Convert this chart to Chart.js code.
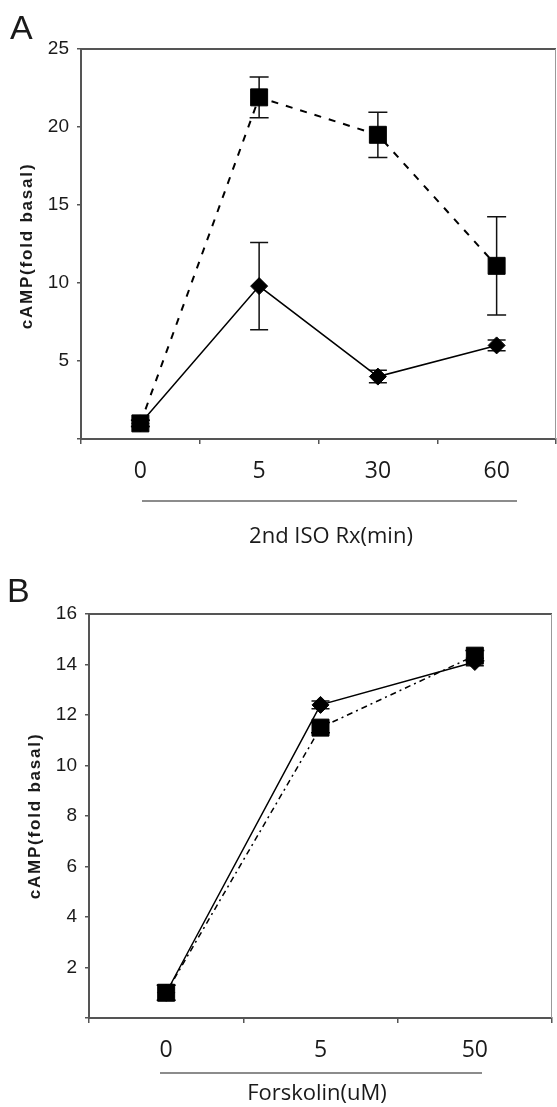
<!DOCTYPE html>
<html>
<head>
<meta charset="utf-8">
<title>cAMP fold basal</title>
<script src="https://cdn.jsdelivr.net/npm/chart.js@4/dist/chart.umd.min.js"></script>
<style>
  html, body { margin: 0; padding: 0; background: #fff; }
  canvas { display: block; }
</style>
</head>
<body>
<canvas id="chartA" width="557" height="560"></canvas>
<canvas id="chartB" width="557" height="547"></canvas>
<script>
'use strict';

// ---- 데이터 ----
const isoMinutes      = ['0', '5', '30', '60'];
const isoSquare       = [1.0, 21.9, 19.5, 11.1];
const isoSquareErr    = [0.2, 1.3, 1.45, 3.15];
const isoDiamond      = [1.0, 9.8, 4.0, 6.0];
const isoDiamondErr   = [0.2, 2.8, 0.4, 0.35];
const isoTicks        = { max: 25, step: 5 };

const fskDoses        = ['0', '5', '50'];
const fskSquare       = [1.0, 11.5, 14.35];
const fskSquareErr    = [0.3, 0.2, 0.2];
const fskDiamond      = [1.0, 12.4, 14.1];
const fskDiamondErr   = [0.3, 0.15, 0.15];
const fskTicks        = { max: 16, step: 2 };

const Y_TITLE = 'cAMP(fold basal)';
const AXIS_COLOR = '#555';
const TEXT_COLOR = '#1a1a1a';

// 에러바: 점 뒤에 그려지도록 datasets 전에
const errorBarPlugin = {
  id: 'errorBars',
  beforeDatasetsDraw(chart) {
    const { ctx } = chart;
    const yScale = chart.scales.y;
    ctx.save();
    ctx.strokeStyle = '#111';
    ctx.lineWidth = 1.5;
    chart.data.datasets.forEach((ds, i) => {
      if (!ds.errors) return;
      const meta = chart.getDatasetMeta(i);
      meta.data.forEach((pt, j) => {
        const v = ds.data[j], e = ds.errors[j];
        const yHi = yScale.getPixelForValue(v + e);
        const yLo = yScale.getPixelForValue(v - e);
        const cap = ds.capHalf || 9;
        ctx.beginPath();
        ctx.moveTo(pt.x, yHi); ctx.lineTo(pt.x, yLo);
        ctx.moveTo(pt.x - cap, yHi); ctx.lineTo(pt.x + cap, yHi);
        ctx.moveTo(pt.x - cap, yLo); ctx.lineTo(pt.x + cap, yLo);
        ctx.stroke();
      });
    });
    ctx.restore();
  },
};

// 패널 문자, 상단/우측 테두리, 축 제목, 밑줄
const panelDecorPlugin = {
  id: 'panelDecor',
  afterDraw(chart, args, o) {
    const { ctx, chartArea: { left, top, right, bottom } } = chart;
    ctx.save();

    ctx.strokeStyle = AXIS_COLOR;
    ctx.lineWidth = 2;
    ctx.beginPath(); ctx.moveTo(left, top); ctx.lineTo(right, top); ctx.stroke();
    ctx.strokeStyle = '#999';
    ctx.lineWidth = 1;
    ctx.beginPath(); ctx.moveTo(right - 0.5, top); ctx.lineTo(right - 0.5, bottom); ctx.stroke();

    ctx.fillStyle = TEXT_COLOR;
    ctx.font = '34px "Liberation Sans", Arial, sans-serif';
    ctx.textAlign = 'left';
    ctx.textBaseline = 'alphabetic';
    ctx.fillText(o.letter, o.letterX, o.letterY);

    ctx.strokeStyle = '#666';
    ctx.lineWidth = 1.5;
    ctx.beginPath(); ctx.moveTo(o.lineX0, o.lineY); ctx.lineTo(o.lineX1, o.lineY); ctx.stroke();

    ctx.font = '22px "Open Sans", sans-serif';
    ctx.textAlign = 'center';
    ctx.textBaseline = 'middle';
    ctx.fillText(o.title, o.titleX, o.titleY);

    ctx.translate(o.yTitleX, o.yTitleY);
    ctx.rotate(-Math.PI / 2);
    ctx.font = 'bold 17px "Liberation Sans", Arial, sans-serif';
    ctx.letterSpacing = '1.8px';
    ctx.fillText(Y_TITLE, 0, 0);

    ctx.restore();
  },
};

function makeChart(canvasId, cfg) {
  const canvas = document.getElementById(canvasId);
  return new Chart(canvas, {
    type: 'line',
    plugins: [errorBarPlugin, panelDecorPlugin],
    data: {
      labels: cfg.labels,
      datasets: [
        {
          // 사각형 (점선) — 첫 번째 데이터셋이 맨 위에 그려짐
          data: cfg.square,
          errors: cfg.squareErr,
          capHalf: 9.5,
          borderColor: '#000',
          borderWidth: cfg.dashWidth,
          borderDash: cfg.dash,
          pointStyle: 'rect',
          pointRadius: 12,
          pointBackgroundColor: '#000',
          pointBorderColor: '#000',
          pointBorderWidth: 1,
          tension: 0,
          fill: false,
        },
        {
          // 마름모 (실선)
          data: cfg.diamond,
          errors: cfg.diamondErr,
          capHalf: 9,
          borderColor: '#000',
          borderWidth: 1.5,
          pointStyle: 'rectRot',
          pointRadius: 8.5,
          pointBackgroundColor: '#000',
          pointBorderColor: '#000',
          pointBorderWidth: 1,
          tension: 0,
          fill: false,
        },
      ],
    },
    options: {
      responsive: false,
      animation: false,
      events: [],
      layout: { padding: cfg.padding, autoPadding: false },
      plugins: {
        legend: { display: false },
        tooltip: { enabled: false },
        panelDecor: cfg.decor,
      },
      scales: {
        x: {
          type: 'category',
          offset: true,
          afterFit(scale) { scale.height = 40; },
          grid: {
            offset: true,
            drawOnChartArea: false,
            drawTicks: true,
            tickLength: 5,
            color: AXIS_COLOR,
            lineWidth: 1.5,
          },
          border: { color: AXIS_COLOR, width: 2 },
          ticks: {
            color: TEXT_COLOR,
            font: { family: '"Open Sans", sans-serif', size: 23 },
            padding: 14,
            maxRotation: 0,
            autoSkip: false,
          },
        },
        y: {
          min: 0,
          max: cfg.ticks.max,
          afterFit(scale) { scale.width = cfg.yWidth; },
          grid: {
            drawOnChartArea: false,
            drawTicks: true,
            tickLength: 4,
            color: AXIS_COLOR,
            lineWidth: 1.5,
          },
          border: { color: AXIS_COLOR, width: 2 },
          ticks: {
            stepSize: cfg.ticks.step,
            color: TEXT_COLOR,
            font: { family: '"Liberation Sans", Arial, sans-serif', size: 19 },
            padding: 8,
            callback: v => (v === 0 ? '' : v),
          },
        },
      },
    },
  });
}

makeChart('chartA', {
  labels: isoMinutes,
  square: isoSquare, squareErr: isoSquareErr,
  diamond: isoDiamond, diamondErr: isoDiamondErr,
  ticks: isoTicks,
  dash: [7, 8], dashWidth: 2,
  yWidth: 81,
  padding: { left: 0, top: 49, right: 1, bottom: 81 },
  decor: {
    letter: 'A', letterX: 10, letterY: 39,
    lineX0: 142, lineX1: 517, lineY: 501,
    title: '2nd ISO Rx(min)', titleX: 331, titleY: 537,
    yTitleX: 27, yTitleY: 246,
  },
});

makeChart('chartB', {
  labels: fskDoses,
  square: fskSquare, squareErr: fskSquareErr,
  diamond: fskDiamond, diamondErr: fskDiamondErr,
  ticks: fskTicks,
  dash: [6, 4, 2, 4], dashWidth: 1.5,
  yWidth: 89,
  padding: { left: 0, top: 54, right: 5, bottom: 49 },
  decor: {
    letter: 'B', letterX: 7, letterY: 42,
    lineX0: 160, lineX1: 482, lineY: 513,
    title: 'Forskolin(uM)', titleX: 317, titleY: 534,
    yTitleX: 35, yTitleY: 256,
  },
});
</script>
</body>
</html>
